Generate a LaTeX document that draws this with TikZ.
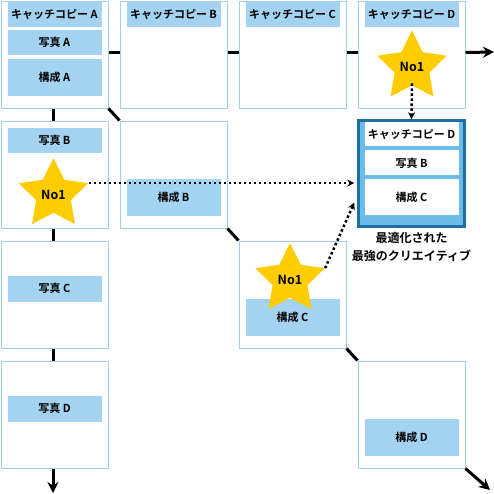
\documentclass[tikz,border=0pt]{standalone}
\usepackage{fontspec}
\setmainfont{Noto Sans CJK JP}[BoldFont={Noto Sans CJK JP Bold}]
\usetikzlibrary{positioning, arrows.meta, shapes.geometric}
\definecolor{framecol}{HTML}{9ED0EE}
\definecolor{stripcol}{HTML}{A3D3F0}
\definecolor{resfill}{HTML}{6CBCEA}
\definecolor{resdraw}{HTML}{1B6FA3}
\definecolor{starcol}{HTML}{FFCC00}
\tikzset{
  > = {Stealth[length = 11pt, width = 11pt]},   % big arrowheads on the flow
  font = \bfseries\fontsize{11}{13}\selectfont,
  cell/.style = {draw = framecol, line width = 1pt, fill = white,
    minimum size = 107pt, inner sep = 0pt},
  strip/.style = {fill = stripcol, minimum width = 94pt, inner sep = 0pt, anchor = north},
  headstrip/.style = {strip, minimum height = 25pt},
  photostrip/.style = {strip, minimum height = 25pt},
  layoutstrip/.style = {strip, minimum height = 37pt},
  result/.style = {draw = resdraw, line width = 2.5pt, fill = resfill, minimum size = 106pt},
  resstrip/.style = {strip, fill = white},
  badge/.style = {star, star points = 5, star point ratio = 2.0, fill = starcol,
    minimum size = 73pt, inner sep = 0pt, font = \bfseries\fontsize{12.5}{14}\selectfont},
  flow/.style = {line width = 3pt},
  pick/.style = {-{Stealth[length = 7pt, width = 7pt]}, line width = 2.5pt,
    dash pattern = on 2.5pt off 2.5pt}
}
\newcommand\winner{\makebox[0pt]{No1}}   % text kept out of the star's size

\begin{document}
\begin{tikzpicture}[x = 1pt, y = -1pt]
\useasboundingbox (0,0) rectangle (494,493);

%% Cells
\foreach \c/\r in {0/0, 1/0, 2/0, 3/0, 0/1, 1/1, 0/2, 2/2, 0/3, 3/3}
  \node [cell] (b\c\r) at (54.5 + 119*\c, 54.5 + 120*\r) {};

%% Flow lines
\foreach \a/\b in {00/10, 10/20, 20/30}
  \draw [flow] ([yshift = 2pt]b\a.east) -- ([yshift = 2pt]b\b.west);
\foreach \a/\b in {00/01, 01/02, 02/03}
  \draw [flow] ([xshift = -1.5pt]b\a.south) -- ([xshift = -1.5pt]b\b.north);
\foreach \a/\b in {00/11, 11/22, 22/33}
  \draw [flow] (b\a.south east) -- (b\b.north west);

\coordinate (endright) at (494, 52);
\coordinate (enddown) at (53, 493);
\coordinate (enddiag) at (490, 490);
\draw [flow, ->] ([yshift = 2pt]b30.east) -- (endright);
\draw [flow, ->] ([xshift = -1.5pt]b03.south) -- (enddown);
\draw [flow, ->] (b33.south east) -- (enddiag);

%% Headlines
\foreach \c/\l in {0/A, 1/B, 2/C, 3/D}
  \node [headstrip] (copy\l) [below = 1pt of b\c0.north] {キャッチコピー \l};

%% Photos and layouts
\node [photostrip] (photoA) [below = 29pt of b00.north] {写真 A};
\node [layoutstrip] (layoutA) [below = 58pt of b00.north] {構成 A};
\node [photostrip] (photoB) [below = 7pt of b01.north] {写真 B};
\node [layoutstrip] (layoutB) [below = 58pt of b11.north] {構成 B};
\node [photostrip, minimum height = 26pt] (photoC) [below = 35pt of b02.north] {写真 C};
\node [photostrip, minimum height = 26pt] (photoD) [below = 35pt of b03.north] {写真 D};
\node [layoutstrip] (layoutC) [below = 58pt of b22.north] {構成 C};
\node [layoutstrip] (layoutD) [below = 58pt of b33.north] {構成 D};

%% Result
\node [result] (res) at (411.5, 173.5) {};
\node [resstrip, minimum height = 24pt] (rcopy) [below = 3pt of res.north] {キャッチコピー D};
\node [resstrip, minimum height = 25pt] (rphoto) [below = 31pt of res.north] {写真 B};
\node [resstrip, minimum height = 36pt] (rlayout) [below = 60pt of res.north] {構成 C};
\node [align = center, font = \bfseries\fontsize{12}{18}\selectfont]
  (caption) [below = 1pt of res] {最適化された\\最強のクリエイティブ};

%% Winners
\node [badge] (no1a) at (53.5, 194.5) {\winner};
\node [badge] (no1b) at (412, 67) {\winner};
\node [badge] (no1c) at (290, 279.5) {\winner};

\coordinate (tipc) at ([xshift = -3pt, yshift = -29pt]res.west);
\draw [pick] (no1a.outer point 5) -- ([xshift = -3pt]no1a.outer point 5 -| res.west);
\draw [pick] ([yshift = 2pt]no1b.south) -- (res.north);
\draw [pick] (no1c.outer point 5) -- (tipc);

\end{tikzpicture}
\end{document}
